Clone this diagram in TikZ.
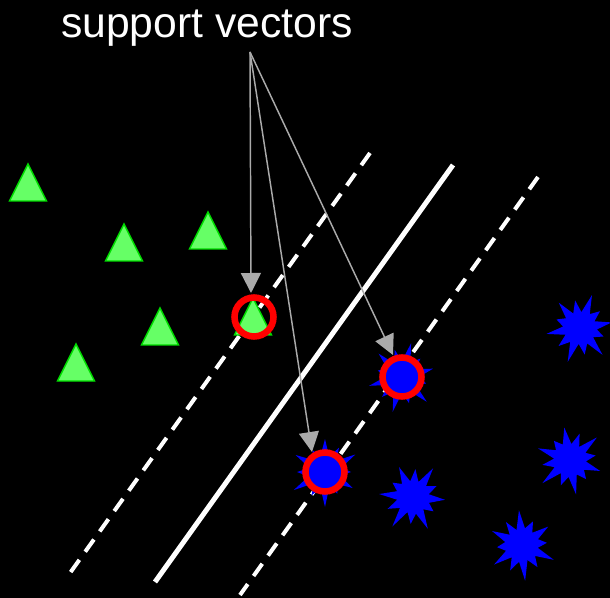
\documentclass[tikz,border=0pt]{standalone}
\usepackage{fontspec}
\setmainfont{Liberation Sans}
\usetikzlibrary{arrows.meta}
\definecolor{trifill}{RGB}{102,255,102}
\definecolor{triedge}{RGB}{0,220,0}
\definecolor{arrgray}{RGB}{170,170,170}
\tikzset{
  tri/.pic={\draw[fill=trifill,draw=triedge,line width=1.1pt] (0,-18.5) -- (18.5,18.5) -- (-18.5,18.5) -- cycle;},
  burst/.pic={\fill[blue] (0:32) -- (15:17) -- (30:25) -- (45:16) -- (60:35) -- (75:17) -- (90:27) -- (105:16) -- (120:36) -- (135:17) -- (150:28) -- (165:16) -- (180:34) -- (195:17) -- (210:25) -- (225:17) -- (240:33) -- (255:16) -- (270:28) -- (285:16) -- (300:35) -- (315:17) -- (330:26) -- (345:16) -- cycle;},
  ring/.style={circle,draw=red,line width=4.9pt,minimum size=29.25pt,inner sep=0pt},
  sepline/.style={white,line width=3.75pt},
  marginline/.style={white,line width=3pt,dash pattern=on 11.25pt off 7.5pt},
  pointer/.style={arrgray,line width=1.1pt,-{Triangle[length=15pt,width=15pt]}},
  label/.style={white,font=\fontsize{32pt}{36pt}\selectfont,inner sep=0pt,anchor=base}
}
\begin{document}
\begin{tikzpicture}[x=0.75pt,y=-0.75pt]
\fill[black] (0,0) rectangle (610,598);
\useasboundingbox (0,0) rectangle (610,598);
% lines
\coordinate (ms) at (453,165);
\coordinate (me) at (155,582);
\coordinate (ls) at (370,153);
\coordinate (le) at (70,573);
\coordinate (rs) at (538,177);
\coordinate (re) at (240,595);
\draw[sepline] (ms) -- (me);
\draw[marginline] (ls) -- (le);
\draw[marginline] (rs) -- (re);
% triangles
\pic (t1) at (28,182.5) {tri};
\pic (t2) at (124,242.5) {tri};
\pic (t3) at (208,230.5) {tri};
\pic (t4) at (160,326.5) {tri};
\pic (t5) at (76,362.5) {tri};
\pic (t6) at (253,316.5) {tri};
% bursts
\pic[rotate=10] (b1) at (580,328) {burst};
\pic[rotate=-20] (b2) at (570,460) {burst};
\pic[rotate=35] (b3) at (522,545) {burst};
\pic[rotate=-5] (b4) at (413,497) {burst};
\pic[rotate=15] (b5) at (402,377) {burst};
\pic[rotate=-30] (b6) at (325,472) {burst};
% support vector rings
\node[ring] (sv1) at (254,317) {};
\node[ring,fill=blue] (sv2) at (402,377) {};
\node[ring,fill=blue] (sv3) at (325,472) {};
% label and pointers
\node[label] (lab) at (207,38) {support vectors};
\coordinate (src) at (250,52);
\coordinate (tip1) at (251,293);
\coordinate (tip2) at (312,452);
\coordinate (tip3) at (393,355);
\draw[pointer] (src) -- (tip1);
\draw[pointer] (src) -- (tip2);
\draw[pointer] (src) -- (tip3);
\end{tikzpicture}
\end{document}
